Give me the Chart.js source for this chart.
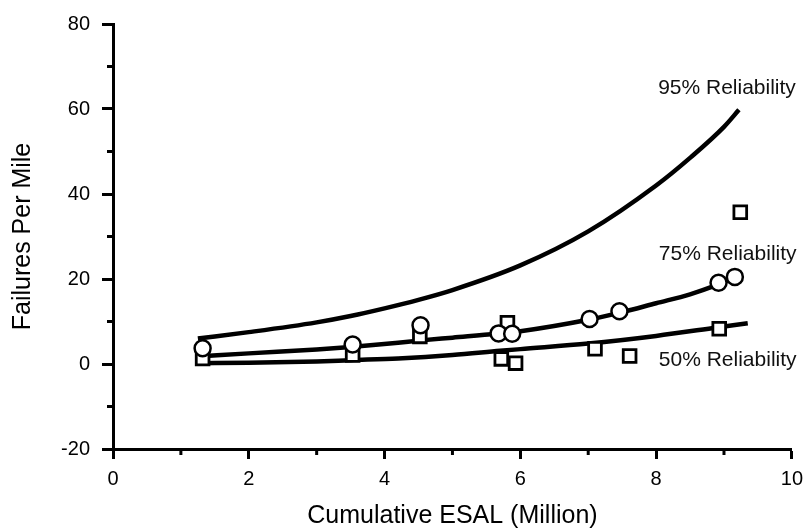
<!DOCTYPE html>
<html>
<head>
<meta charset="utf-8">
<script src="https://cdn.jsdelivr.net/npm/chart.js@4"></script>
<style>
  body { margin: 0; background: #fff; }
  #wrap { width: 811px; height: 531px; position: relative; }
</style>
</head>
<body>
<div id="wrap"><canvas id="relChart"></canvas></div>
<script>
// curves
const esal95 = [1.25, 2, 3, 3.5, 4, 4.5, 5, 6, 7, 8, 8.5, 9, 9.22];
const fail95 = [6, 7.5, 9.8, 11.3, 13.1, 15.1, 17.4, 23.2, 31.2, 42, 48.5, 55.8, 59.8];
const esal75 = [1.3, 2, 3, 3.5, 4.2, 4.5, 5, 5.65, 6, 7, 7.5, 8, 8.5, 8.9, 9.05];
const fail75 = [1.8, 2.5, 3.4, 4.0, 5.0, 5.5, 6.2, 7.1, 7.7, 10.4, 12.2, 14.3, 16.4, 18.6, 19.6];
const esal50 = [1.25, 2, 3, 3.5, 4.2, 5, 5.7, 6, 7, 8, 8.9, 9.35];
const fail50 = [0.2, 0.3, 0.6, 0.9, 1.3, 2.1, 3.1, 3.5, 4.8, 6.6, 8.6, 9.6];

// observed sections
const circleX = [1.32, 3.53, 4.53, 5.68, 5.88, 7.02, 7.46, 8.92, 9.16];
const circleY = [3.7, 4.6, 9.1, 7.2, 7.1, 10.6, 12.4, 19.1, 20.5];
const squareX = [1.32, 3.53, 4.52, 5.81, 5.72, 5.93, 7.1, 7.61, 8.93, 9.24];
const squareY = [1.3, 2.1, 6.5, 9.7, 1.2, 0.2, 3.6, 1.9, 8.3, 35.7];

// curve labels (data coords)
const labelText = ['95% Reliability', '75% Reliability', '50% Reliability'];
const labelX = [8.03, 8.04, 8.04];
const labelY = [64.8, 25.9, 0.93];

const xMinor = [1, 3, 5, 7, 9];
const yMinor = [-10, 10, 30, 50, 70];

function pts(xs, ys) {
    return xs.map((x, i) => ({x: x, y: ys[i]}));
}

const FONT = '"Liberation Sans", Arial, Helvetica, sans-serif';

const extras = {
    id: 'extras',
    afterDraw(chart) {
        const ctx = chart.ctx;
        const xs = chart.scales.x, ys = chart.scales.y;
        ctx.save();
        ctx.strokeStyle = '#000';
        ctx.lineWidth = 3;
        // minor ticks
        xMinor.forEach(v => {
            const px = xs.getPixelForValue(v);
            ctx.beginPath();
            ctx.moveTo(px, xs.top);
            ctx.lineTo(px, xs.top + 6);
            ctx.stroke();
        });
        yMinor.forEach(v => {
            const py = ys.getPixelForValue(v);
            ctx.beginPath();
            ctx.moveTo(ys.right, py);
            ctx.lineTo(ys.right - 6, py);
            ctx.stroke();
        });
        // curve labels
        ctx.fillStyle = '#111';
        ctx.font = '21px ' + FONT;
        ctx.textAlign = 'left';
        ctx.textBaseline = 'middle';
        labelText.forEach((t, i) => {
            ctx.fillText(t, xs.getPixelForValue(labelX[i]), ys.getPixelForValue(labelY[i]));
        });
        ctx.restore();
    }
};

const curveStyle = {
    showLine: true,
    pointRadius: 0,
    borderColor: '#000',
    borderWidth: 4.5,
    fill: false,
    cubicInterpolationMode: 'monotone'
};

new Chart(document.getElementById('relChart'), {
    type: 'scatter',
    data: {
        datasets: [
            {
                label: 'circles',
                data: pts(circleX, circleY),
                pointStyle: 'circle',
                pointRadius: 8,
                borderWidth: 2.5,
                borderColor: '#000',
                backgroundColor: '#fff',
                order: 1
            },
            {
                label: 'squares',
                data: pts(squareX, squareY),
                pointStyle: 'rect',
                pointRadius: 9,
                borderWidth: 2.8,
                borderColor: '#000',
                backgroundColor: '#fff',
                order: 2
            },
            Object.assign({label: '95%', data: pts(esal95, fail95), order: 3}, curveStyle),
            Object.assign({label: '75%', data: pts(esal75, fail75), order: 3}, curveStyle),
            Object.assign({label: '50%', data: pts(esal50, fail50), order: 3}, curveStyle)
        ]
    },
    options: {
        responsive: true,
        maintainAspectRatio: false,
        animation: false,
        layout: { padding: { top: 19, right: 18, left: 0, bottom: 0 } },
        plugins: {
            legend: { display: false },
            tooltip: { enabled: false }
        },
        scales: {
            x: {
                type: 'linear',
                min: 0,
                max: 10,
                afterFit(scale) { scale.height = 82; },
                ticks: {
                    stepSize: 2,
                    color: '#000',
                    padding: 8,
                    font: { family: FONT, size: 20 }
                },
                grid: {
                    drawOnChartArea: false,
                    tickLength: 10,
                    tickWidth: 3,
                    tickColor: '#000'
                },
                border: { display: true, color: '#000', width: 3 },
                title: {
                    display: true,
                    text: 'Cumulative ESAL (Million)',
                    color: '#000',
                    font: { family: FONT, size: 25, lineHeight: 1.2 },
                    padding: { top: 0, bottom: 0 }
                }
            },
            y: {
                type: 'linear',
                min: -20,
                max: 80,
                afterFit(scale) { scale.width = 113; },
                ticks: {
                    stepSize: 20,
                    color: '#000',
                    padding: 12,
                    font: { family: FONT, size: 20 }
                },
                grid: {
                    drawOnChartArea: false,
                    tickLength: 11,
                    tickWidth: 3,
                    tickColor: '#000'
                },
                border: { display: true, color: '#000', width: 3 },
                title: {
                    display: true,
                    text: 'Failures Per Mile',
                    color: '#000',
                    font: { family: FONT, size: 25, lineHeight: 1.2 },
                    padding: { top: 8, bottom: 0 }
                }
            }
        }
    },
    plugins: [extras]
});
</script>
</body>
</html>
